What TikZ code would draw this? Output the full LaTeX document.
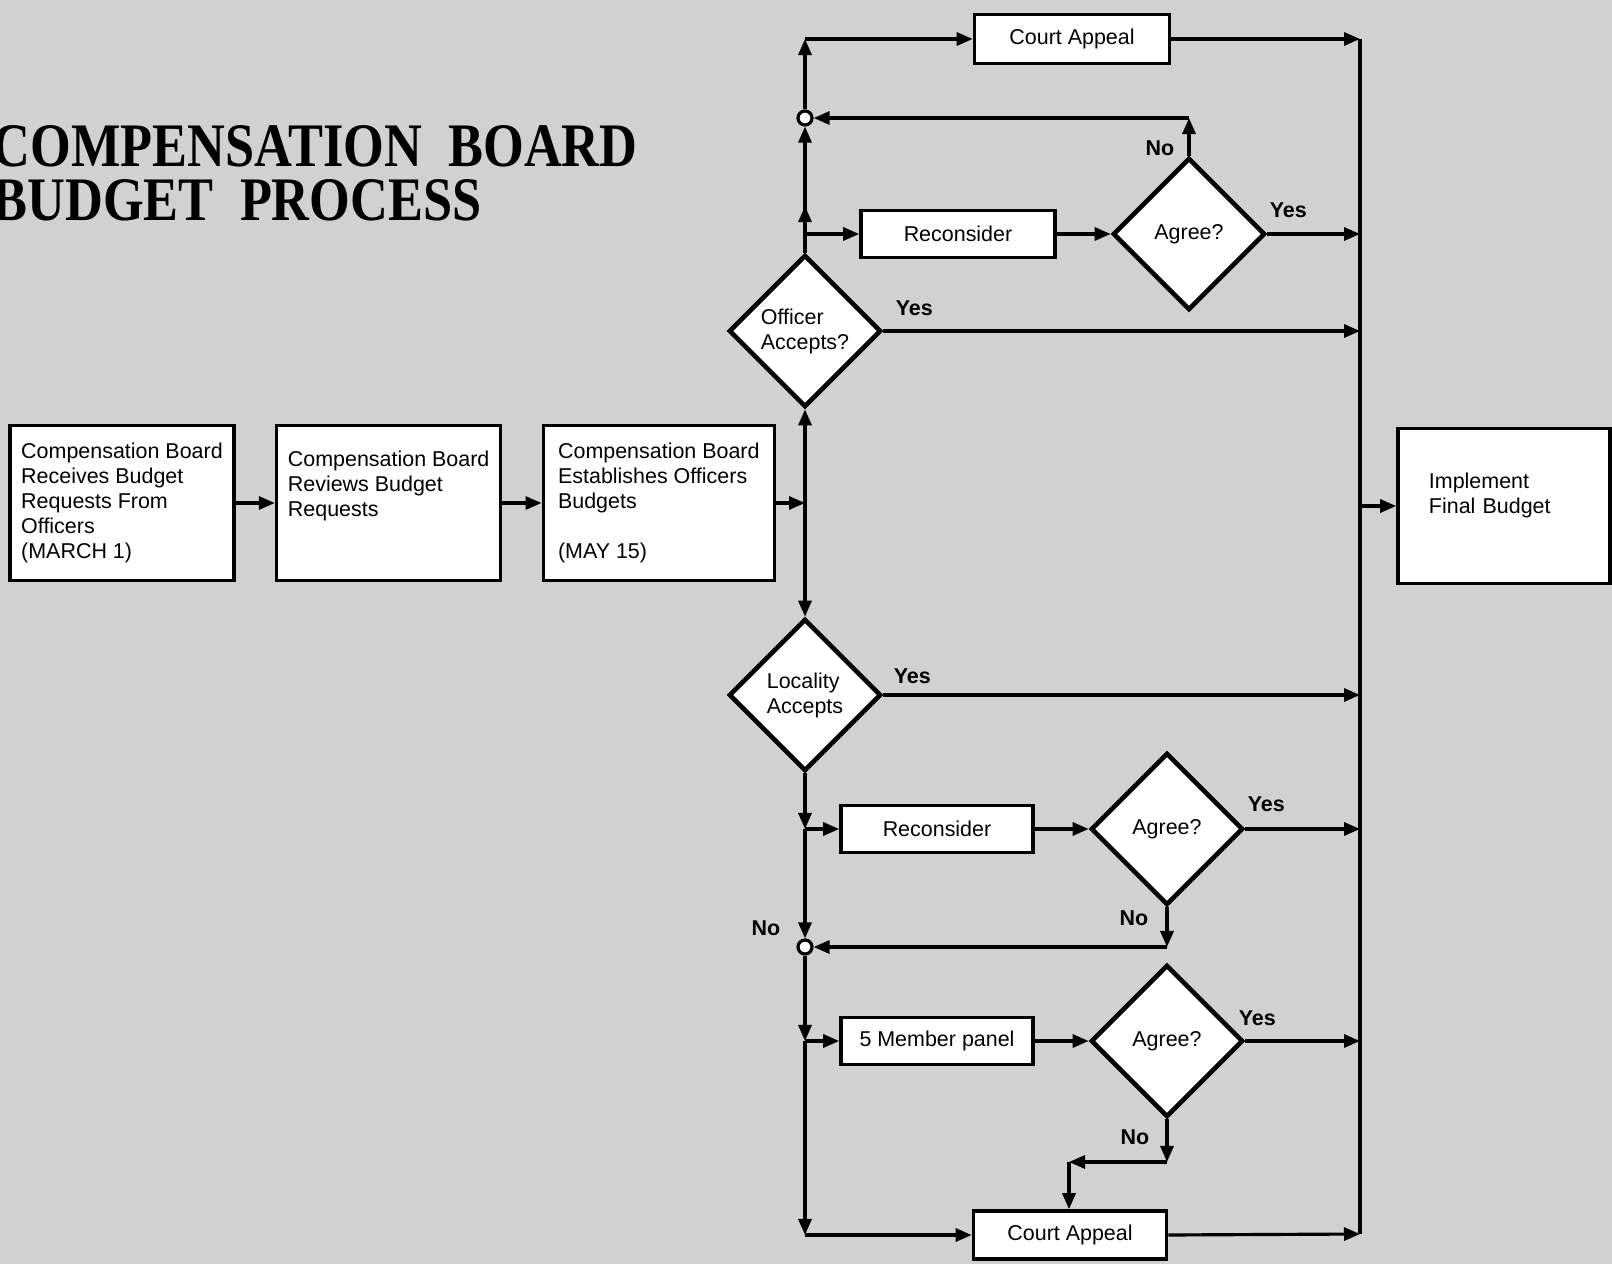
\documentclass[tikz,border=0pt]{standalone}
\usepackage{fontspec}
\setmainfont{Liberation Sans}
\newfontfamily\headfont{Liberation Serif}
\usepackage{graphicx}
\usepackage{tikz}
\usetikzlibrary{positioning, shapes.geometric, arrows.meta, decorations.markings}
\newcommand{\boxfont}{\fontsize{6.1}{7.1}\selectfont}
\tikzstyle{stage}=[rectangle, draw=black, line width=1pt, fill=white, minimum height=1.55cm, align=left, inner sep=0pt, font=\boxfont]
\tikzstyle{task}=[rectangle, draw=black, line width=1pt, fill=white, minimum width=1.93cm, minimum height=0.47cm, font=\boxfont]
\tikzstyle{query}=[diamond, draw=black, line width=1.3pt, fill=white, aspect=1, inner sep=0pt, minimum width=1.52cm, minimum height=1.52cm, align=left, font=\boxfont]
\tikzstyle{joint}=[circle, draw=black, fill=white, line width=0.9pt, minimum size=0.14cm, inner sep=0pt]
\tikzstyle{yn}=[font=\boxfont\bfseries, inner sep=0pt]
\tikzstyle{heading}=[inner sep=0pt, font=\headfont\bfseries\fontsize{17.6}{14.8}\selectfont]
\tikzstyle{arr}=[line width=0.9pt, -{Triangle[length=0.16cm, width=0.13cm]}]
\tikzset{arrat/.style={decoration={markings, mark=at position #1 with {\arrow{Triangle[length=0.16cm, width=0.13cm]}}}, postaction={decorate}}}

\begin{document}
\begin{tikzpicture}[x=0.01cm, y=-0.01cm]
            \useasboundingbox (0,0) rectangle (1612,1264);
            \fill[black!18] (0,0) rectangle (1612,1264);
            % title, cut at the left edge
            \node[heading, anchor=north west](title1) at (-8,125){\scalebox{0.846}[1]{COMPENSATION\ \ BOARD}};
            \node[heading, below=0.11cm of title1.south west, anchor=north west](title2){\scalebox{0.846}[1]{BUDGET\ \ PROCESS}};
            % main line
            \node[stage, minimum width=2.24cm](recv) at (122,503){Compensation Board\\Receives Budget\\Requests From\\Officers\\(MARCH 1)};
            \node[stage, minimum width=2.24cm, right=0.39cm of recv](review){Compensation Board\\Reviews Budget\\Requests\\\mbox{}\\[-0.12cm]\mbox{}};
            \node[stage, minimum width=2.31cm, right=0.39cm of review](estab){Compensation Board\\Establishes Officers\\Budgets\\ \\(MAY 15)};
            \node[query](off) at (805,331){Officer\\Accepts?};
            \node[query](loc) at (805,695){Locality\\Accepts};
            \coordinate (sp) at (estab.east -| off);
            \draw[arr] (recv) to (review);
            \draw[arr] (review) to (estab);
            \draw[arr] (estab) to (sp);
            \draw[arr] (sp) to (off.south);
            \draw[arr] (sp) to (loc.north);
            % officer branch
            \node[task, minimum width=1.94cm](rc1) at (958,234){Reconsider};
            \node[query](ag1) at (1189,234){Agree?};
            \node[joint](j1) at (805,118){};
            \node[task, minimum width=1.95cm, minimum height=0.49cm](ct) at (1072,39){Court Appeal};
            \coordinate (jt) at (off |- rc1);
            \coordinate (ctop) at (off |- ct);
            \coordinate (n1) at (ag1 |- j1);
            \coordinate (bt) at (1360,39);
            \coordinate (bb) at (1360,1234);
            \draw[line width=1.1pt] (bt) to (bb);
            \draw[line width=0.9pt] (off.north) to (jt);
            \draw[arr, arrat=0.26] (jt) to (j1.south);
            \draw[arr] (j1.north) to (ctop);
            \draw[arr] (ctop) to (ct.west);
            \draw[arr] (jt) to (rc1.west);
            \draw[arr] (rc1) to (ag1);
            \draw[arr] (ag1.north) to (n1);
            \draw[arr] (n1) to (j1.east);
            \draw[arr] (ct.east) to (bt);
            % locality branch
            \node[task, minimum width=1.92cm](rc2) at (937,829){Reconsider};
            \node[query](ag2) at (1167,829){Agree?};
            \node[joint](j2) at (805,947){};
            \node[task, minimum width=1.92cm](mp) at (937,1041){5 Member panel};
            \node[query](ag3) at (1167,1041){Agree?};
            \node[task, minimum height=0.48cm](cb) at (1070,1235){Court Appeal};
            \coordinate (jb1) at (off |- rc2);
            \coordinate (n2) at (ag2 |- j2);
            \coordinate (jb2) at (off |- mp);
            \coordinate (n3) at (1167,1162);
            \coordinate (n4) at (1069,1162);
            \coordinate (cbl) at (off |- cb);
            \draw[arr] (loc.south) to (jb1);
            \draw[arr] (jb1) to (rc2.west);
            \draw[arr] (rc2) to (ag2);
            \draw[arr] (jb1) to (j2.north);
            \draw[arr] (ag2.south) to (n2);
            \draw[arr] (n2) to (j2.east);
            \draw[arr] (j2.south) to (jb2);
            \draw[arr] (jb2) to (mp.west);
            \draw[arr] (mp) to (ag3);
            \draw[arr] (ag3.south) to (n3);
            \draw[arr] (n3) to (n4);
            \draw[arr] (n4) to (n4 |- cb.north);
            \draw[arr] (jb2) to (cbl);
            \draw[arr] (cbl) to (cb.west);
            \draw[arr] (cb.east) to (bb);
            % every Yes goes to the bus
            \foreach \q in {off, ag1, loc, ag2, ag3}{
                \draw[arr] (\q.east) to (\q.east -| bt);
            }
            \node[stage, minimum width=2.12cm, text width=1.5cm, inner xsep=0.31cm](impl) at (1504,506){Implement\\Final Budget\\\mbox{}};
            \draw[arr] (impl.west -| bt) to (impl.west);
            % labels
            \node[yn](yes1) at ([shift={(31,-23)}]off.east){Yes};
            \node[yn](yes2) at ([shift={(21,-24)}]ag1.east){Yes};
            \node[yn](yes3) at ([shift={(29,-19)}]loc.east){Yes};
            \node[yn](yes4) at ([shift={(21,-25)}]ag2.east){Yes};
            \node[yn](yes5) at ([shift={(12,-23)}]ag3.east){Yes};
            \node[yn](no1) at ([shift={(-29,-7)}]ag1.north){No};
            \node[yn](no2) at ([shift={(-33,11)}]ag2.south){No};
            \node[yn](no3) at ([shift={(-32,18)}]ag3.south){No};
            \node[yn](no4) at ([shift={(-39,-19)}]j2.center){No};
\end{tikzpicture}
\end{document}
